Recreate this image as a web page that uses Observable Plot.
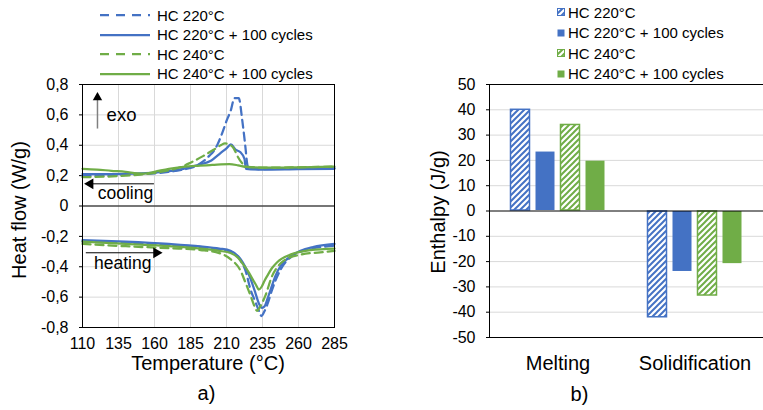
<!DOCTYPE html>
<html>
<head>
<meta charset="utf-8">
<script src="https://cdn.jsdelivr.net/npm/d3@7"></script>
<script src="https://cdn.jsdelivr.net/npm/@observablehq/plot@0.6"></script>
<style>
  html, body { margin: 0; padding: 0; background: #fff; }
  #root { position: relative; width: 763px; height: 410px; overflow: hidden;
          font-family: "Liberation Sans", Arial, sans-serif; color: #000; background: #fff; }
  .leg { position: absolute; height: 20px; display: flex; align-items: center;
         font-size: 15px; white-space: nowrap; }
  .ttl { position: absolute; font-size: 20px; line-height: 1; white-space: nowrap;
         transform: translate(-50%, -50%); }
  .ttl.rot { transform: translate(-50%, -50%) rotate(-90deg); }
  [aria-label^="fx-axis"] text { font-size: 20px; }
</style>
</head>
<body>
<div id="root">
  <svg width="0" height="0" style="position:absolute">
    <defs>
      <pattern id="hatchBlue" width="6" height="6" patternUnits="userSpaceOnUse">
        <rect width="6" height="6" fill="#fff"/>
        <path d="M-1.5,1.5L1.5,-1.5M0,6L6,0M4.5,7.5L7.5,4.5" stroke="#4472C4" stroke-width="2"/>
      </pattern>
      <pattern id="hatchGreen" width="6" height="6" patternUnits="userSpaceOnUse">
        <rect width="6" height="6" fill="#fff"/>
        <path d="M-1.5,1.5L1.5,-1.5M0,6L6,0M4.5,7.5L7.5,4.5" stroke="#70AD47" stroke-width="2"/>
      </pattern>
    </defs>
  </svg>
</div>
<script>
// ---------- data ----------
const series = ["HC 220°C", "HC 220°C + 100 cycles", "HC 240°C", "HC 240°C + 100 cycles"];
const seriesColors = ["#4472C4", "#4472C4", "#70AD47", "#70AD47"];
const seriesHatch = ["url(#hatchBlue)", null, "url(#hatchGreen)", null];
const seriesDashed = [true, false, true, false];

const tempTicks = [110, 135, 160, 185, 210, 235, 260, 285];
const heatFlowTicks = [-0.8, -0.6, -0.4, -0.2, 0, 0.2, 0.4, 0.6, 0.8];

// DSC cooling scans [temperature °C, heat flow W/g]
const hc220Cooling = [[110,0.200],[120,0.198],[130,0.200],[140,0.205],[150,0.210],[160,0.215],[170,0.225],[180,0.240],[188,0.260],[194,0.295],[198,0.330],[201,0.360],[204,0.410],[207,0.480],[210,0.560],[213,0.630],[215.5,0.710],[218.5,0.710],[221,0.560],[223,0.400],[224.5,0.270],[225.5,0.245],[235,0.243],[250,0.245],[270,0.247],[285,0.250]];
const hc220CyclesCooling = [[110,0.210],[125,0.210],[140,0.212],[150,0.215],[160,0.220],[170,0.230],[180,0.245],[190,0.270],[199.5,0.300],[206,0.350],[210,0.380],[213,0.405],[216.5,0.370],[219.5,0.355],[222.5,0.310],[223.5,0.245],[235,0.240],[260,0.243],[285,0.245]];
const hc240Cooling = [[110,0.190],[125,0.193],[140,0.200],[150,0.207],[160,0.218],[170,0.235],[178,0.255],[185,0.285],[194,0.330],[201,0.370],[206,0.400],[209,0.412],[212,0.405],[215,0.380],[217.5,0.330],[221,0.280],[224,0.258],[235,0.252],[260,0.255],[285,0.260]];
const hc240CyclesCooling = [[110,0.245],[120,0.240],[130,0.232],[140,0.225],[148,0.215],[153,0.213],[160,0.225],[170,0.245],[180,0.258],[190,0.265],[200,0.270],[212,0.275],[218,0.268],[224,0.257],[240,0.252],[260,0.255],[285,0.260]];

// DSC heating scans [temperature °C, heat flow W/g]
const hc220Heating = [[110,-0.235],[140,-0.245],[170,-0.258],[192,-0.270],[205,-0.285],[212.8,-0.300],[219.8,-0.360],[223,-0.420],[226.7,-0.550],[230,-0.630],[232.5,-0.690],[234.3,-0.725],[236,-0.700],[238.3,-0.650],[241.7,-0.550],[244.5,-0.480],[247.5,-0.420],[255.5,-0.330],[265,-0.290],[285,-0.262]];
const hc220CyclesHeating = [[110,-0.225],[140,-0.235],[170,-0.250],[192,-0.266],[205,-0.280],[212.8,-0.295],[219.8,-0.350],[223,-0.400],[226.7,-0.480],[230,-0.570],[232.4,-0.640],[234.7,-0.670],[236.5,-0.660],[238.3,-0.615],[241,-0.540],[244,-0.460],[248,-0.390],[252,-0.350],[261.4,-0.295],[270,-0.270],[285,-0.250]];
const hc240Heating = [[110,-0.250],[140,-0.265],[170,-0.278],[192,-0.290],[205,-0.310],[212.8,-0.350],[219.8,-0.427],[223,-0.500],[226.7,-0.590],[229,-0.650],[231.2,-0.690],[233.5,-0.660],[237,-0.590],[241.7,-0.460],[245.5,-0.400],[249.8,-0.360],[261.4,-0.320],[275,-0.305],[285,-0.295]];
const hc240CyclesHeating = [[110,-0.235],[140,-0.250],[170,-0.265],[192,-0.280],[205,-0.295],[212.8,-0.310],[218,-0.340],[222,-0.390],[225,-0.430],[228,-0.480],[230.5,-0.520],[232.4,-0.550],[234.5,-0.530],[236.5,-0.490],[238.3,-0.460],[241.5,-0.410],[245.2,-0.370],[254.4,-0.320],[268.3,-0.290],[285,-0.280]];

// enthalpy bars
const categories = ["Melting", "Solidification"];
const meltingEnthalpy = [40.2, 23.5, 34.2, 19.9];
const solidificationEnthalpy = [-42.2, -24.1, -33.6, -21.0];
const enthalpyTicks = [-50, -40, -30, -20, -10, 0, 10, 20, 30, 40, 50];

// ---------- build tables ----------
const FONT = '"Liberation Sans", Arial, sans-serif';
const scans = [
  [0, "cooling", hc220Cooling], [1, "cooling", hc220CyclesCooling],
  [2, "cooling", hc240Cooling], [3, "cooling", hc240CyclesCooling],
  [0, "heating", hc220Heating], [1, "heating", hc220CyclesHeating],
  [2, "heating", hc240Heating], [3, "heating", hc240CyclesHeating]
];
const curveRows = scans.flatMap(([si, scan, pts]) =>
  pts.map(([T, v]) => ({si, series: series[si], key: series[si] + " " + scan, T, v})));

const heatFmt = d => d === 0 ? "0" : d.toFixed(1).replace(".", ",");

const lineMarks = series.map((s, si) => Plot.line(curveRows.filter(d => d.si === si), {
  x: "T", y: "v", z: "key", stroke: "series", strokeWidth: 2.25,
  curve: "monotone-x", strokeDasharray: seriesDashed[si] ? "8,5" : null
}));

const plotA = Plot.plot({
  width: 370, height: 410,
  marginLeft: 82, marginRight: 36, marginTop: 84, marginBottom: 83,
  style: {fontFamily: FONT, fontSize: "16px", color: "#000", background: "transparent", overflow: "visible"},
  x: {domain: [110, 285], ticks: tempTicks, tickSize: 0, tickPadding: 10, label: null, tickFormat: d => String(d)},
  y: {domain: [-0.8, 0.8], ticks: heatFlowTicks, tickSize: 3, tickPadding: 11, label: null, tickFormat: heatFmt},
  color: {domain: series, range: seriesColors},
  marks: [
    Plot.ruleX(tempTicks, {stroke: "#d9d9d9"}),
    Plot.ruleY(heatFlowTicks, {stroke: "#d9d9d9"}),
    Plot.ruleY([0], {stroke: "#000"}),
    ...lineMarks,
    Plot.frame({stroke: "#000"}),
    // annotations
    Plot.link([{x1: 120.4, y1: 0.51, x2: 120.4, y2: 0.70}], {x1: "x1", y1: "y1", x2: "x2", y2: "y2", stroke: "#808080", strokeWidth: 1.5}),
    Plot.dot([{x: 120.4, y: 0.714}], {x: "x", y: "y", symbol: "triangle", r: 3.5, fill: "#000", stroke: "none", rotate: 0}),
    Plot.text([{x: 137.1, y: 0.60, t: "exo"}], {x: "x", y: "y", text: "t", fontSize: 18.5, fill: "#000"}),
    Plot.link([{x1: 159.6, y1: 0.146, x2: 116, y2: 0.146}], {x1: "x1", y1: "y1", x2: "x2", y2: "y2", stroke: "#000", strokeWidth: 1}),
    Plot.dot([{x: 115.4, y: 0.146}], {x: "x", y: "y", symbol: "triangle", r: 4, fill: "#000", stroke: "none", rotate: -90}),
    Plot.text([{x: 139.8, y: 0.08, t: "cooling"}], {x: "x", y: "y", text: "t", fontSize: 17.5, fill: "#000"}),
    Plot.link([{x1: 112.3, y1: -0.308, x2: 160.5, y2: -0.308}], {x1: "x1", y1: "y1", x2: "x2", y2: "y2", stroke: "#000", strokeWidth: 1}),
    Plot.dot([{x: 161.3, y: -0.308}], {x: "x", y: "y", symbol: "triangle", r: 4, fill: "#000", stroke: "none", rotate: 90}),
    Plot.text([{x: 137.9, y: -0.381, t: "heating"}], {x: "x", y: "y", text: "t", fontSize: 17.5, fill: "#000"})
  ]
});

const barRows = categories.flatMap((c, ci) => series.map((s, si) => ({
  category: c, series: s, si,
  value: (ci === 0 ? meltingEnthalpy : solidificationEnthalpy)[si]
})));

const plotB = Plot.plot({
  width: 363, height: 410,
  marginLeft: 89, marginRight: 0, marginTop: 84, marginBottom: 73,
  style: {fontFamily: FONT, fontSize: "16px", color: "#000", background: "transparent", overflow: "visible"},
  fx: {domain: categories, padding: 0, axis: "bottom", tickSize: 0, tickPadding: 18, label: null},
  x: {domain: series, axis: null, paddingInner: 0.2, paddingOuter: 0.84},
  y: {domain: [-50, 50], ticks: enthalpyTicks, tickSize: 3, tickPadding: 11, label: null, tickFormat: d => String(d)},
  color: {type: "identity"},
  marks: [
    Plot.ruleY(enthalpyTicks.filter(v => Math.abs(v) !== 50 && v !== 0), {stroke: "#d9d9d9"}),
    Plot.barY(barRows, {
      fx: "category", x: "series", y: "value",
      fill: d => seriesHatch[d.si] || seriesColors[d.si],
      stroke: d => seriesHatch[d.si] ? seriesColors[d.si] : "none",
      strokeWidth: 1.5, inset: 0.5
    }),
    Plot.ruleY([-50, 0, 50], {stroke: "#000"})
  ]
});

const root = document.getElementById("root");
plotA.style.position = "absolute"; plotA.style.left = "0px"; plotA.style.top = "0px";
plotB.style.position = "absolute"; plotB.style.left = "400px"; plotB.style.top = "0px";
root.appendChild(plotA);
root.appendChild(plotB);
// left axis line of panel b
d3.select(plotB).append("line")
  .attr("x1", 89.5).attr("x2", 89.5).attr("y1", 84).attr("y2", 337.5)
  .attr("stroke", "#000");

// ---------- titles ----------
function title(text, x, y, rot) {
  const d = document.createElement("div");
  d.className = "ttl" + (rot ? " rot" : "");
  d.textContent = text;
  d.style.left = x + "px"; d.style.top = y + "px";
  root.appendChild(d);
}
title("Heat flow (W/g)", 19, 210, true);
title("Temperature (°C)", 208, 363, false);
title("a)", 206.5, 392.5, false);
title("Enthalpy (J/g)", 438, 212, true);
title("b)", 579.5, 394, false);

// ---------- legends ----------
const legA = [15, 34.5, 54, 73.5];
series.forEach((s, si) => {
  const d = document.createElement("div");
  d.className = "leg";
  d.style.left = "100px"; d.style.top = (legA[si] - 10) + "px";
  d.innerHTML = `<svg width="50" height="20"><line x1="0" x2="50" y1="10" y2="10" stroke="${seriesColors[si]}" stroke-width="2.25" ${seriesDashed[si] ? 'stroke-dasharray="9,7"' : ""}/></svg><span style="margin-left:7px">${s}</span>`;
  root.appendChild(d);
});
const legB = [12, 32.5, 53, 73.5];
series.forEach((s, si) => {
  const d = document.createElement("div");
  d.className = "leg";
  d.style.left = "557px"; d.style.top = (legB[si] - 10) + "px";
  const fill = seriesHatch[si] || seriesColors[si];
  const stroke = seriesHatch[si] ? seriesColors[si] : "none";
  d.innerHTML = `<svg width="8" height="8"><rect x="0.5" y="0.5" width="7" height="7" fill="${fill}" stroke="${stroke}" stroke-width="1"/></svg><span style="margin-left:3px">${s}</span>`;
  root.appendChild(d);
});
</script>
</body>
</html>
